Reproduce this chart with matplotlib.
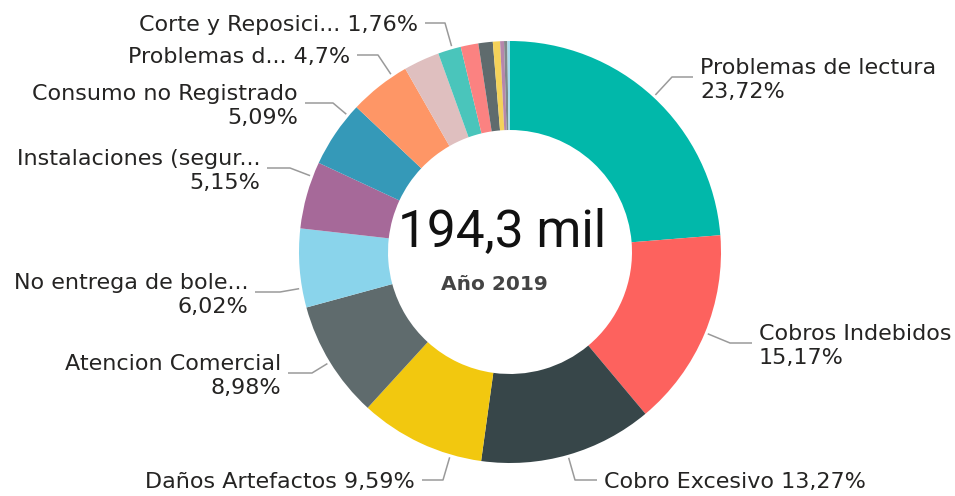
import numpy as np
import matplotlib.pyplot as plt

W, H = 955, 496

# data, clockwise from the top
categories = ["Problemas de lectura", "Cobros Indebidos", "Cobro Excesivo",
              "Daños Artefactos", "Atencion Comercial", "No entrega de bole...",
              "Instalaciones (segur...", "Consumo no Registrado", "Problemas d...",
              "Otro 1", "Corte y Reposici...", "Otro 2", "Otro 3", "Otro 4",
              "Otro 5", "Otro 6", "Otro 7"]
shares = [23.72, 15.17, 13.27, 9.59, 8.98, 6.02, 5.15, 5.09, 4.7,
          2.75, 1.76, 1.35, 1.1, 0.55, 0.3, 0.25, 0.2]
colors = ["#01B8AA", "#FD625E", "#374649", "#F2C80F", "#5F6B6D", "#8AD4EB",
          "#A66999", "#3599B8", "#FE9666", "#DFBFBF", "#4AC5BB", "#FB8281",
          "#5F6B6D", "#F4D25A", "#B687AC", "#7F898A", "#A4DDEE"]
total_label = "194,3 mil"
subtitle = "Año 2019"

# label layout: index -> (elbow_x, line_y, end_x, ha, two_lines)
layout = {
    0: (672, 77, 693, "left", True),
    1: (730, 343, 752, "left", True),
    2: (575, 480, 597, "left", False),
    3: (443, 480, 422, "right", False),
    4: (312, 373, 288, "right", True),
    5: (280, 292, 255, "right", True),
    6: (290, 168, 267, "right", True),
    7: (333, 103, 305, "right", True),
    8: (378, 55, 357, "right", False),
    10: (445, 23, 425, "right", False),
}

cx, cy, R = 510, 252, 211

fig = plt.figure(figsize=(W / 100, H / 100), dpi=100)
ax = fig.add_axes([0, 0, 1, 1])

# y axis inverted -> counterclock in data = clockwise on screen
wedges, _ = ax.pie(shares, colors=colors, center=(cx, cy), radius=R,
                   startangle=-90, counterclock=True, frame=True,
                   wedgeprops=dict(width=89, linewidth=0))
ax.set_xlim(0, W)
ax.set_ylim(H, 0)
ax.set_aspect("equal")
ax.axis("off")

font = "DejaVu Sans"
txt_col = "#252423"
for i, (ex, ly, endx, ha, two) in layout.items():
    w = wedges[i]
    a = np.degrees(np.arctan2(ly - cy, ex - cx)) % 360
    t1, t2 = w.theta1 % 360, w.theta2 % 360
    if t2 < t1:
        t2 += 360
        if a < t1:
            a += 360
    a = min(max(a, t1 + 0.5), t2 - 0.5)
    sx = cx + (R + 3) * np.cos(np.radians(a))
    sy = cy + (R + 3) * np.sin(np.radians(a))
    ax.plot([sx, ex, endx], [sy, ly, ly], color="#9a9a9a", lw=1.1,
            solid_capstyle="butt")
    pct = f"{shares[i]:.2f}".rstrip("0").replace(".", ",") + "%"
    if two:
        s = categories[i] + "\n" + pct
        ty = ly + 3
    else:
        s = categories[i] + " " + pct
        ty = ly + 2
    tx = endx + 7 if ha == "left" else endx - 7
    ax.text(tx, ty, s, ha=ha, va="center", fontsize=16, family=font,
            color=txt_col, linespacing=1.2)

ax.text(cx - 8, 232, total_label, ha="center", va="center", fontsize=37,
        family="Roboto", color="#111111")
ax.text(cx - 16, 285, subtitle, ha="center", va="center", fontsize=14.5,
        family="DejaVu Sans", fontweight="bold", color="#444444")

fig.savefig("out.png", dpi=100)
